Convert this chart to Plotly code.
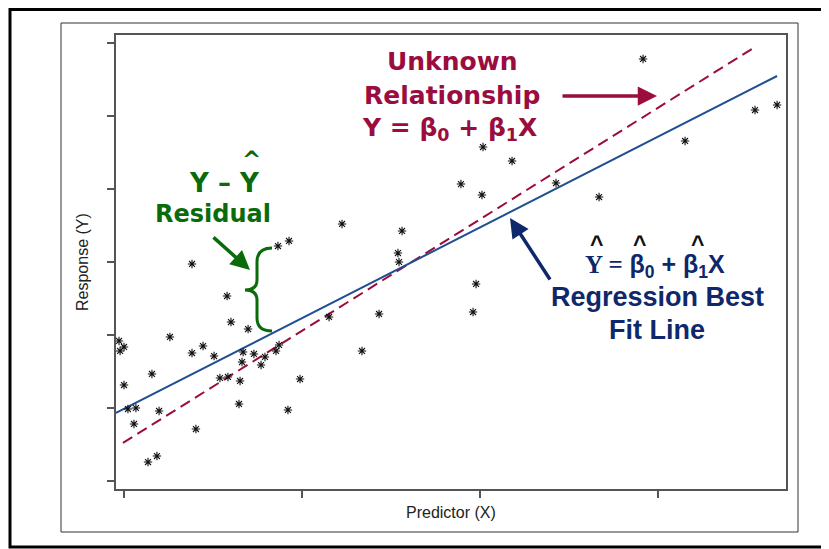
import plotly.graph_objects as go

# scatter data (predictor, response)
pred_x = [-0.028, 0.0, -0.022, 0.0, 0.022, 0.067, 0.056, 0.157, 0.197, 0.258,
          0.135, 0.185, 0.382, 0.382, 0.404, 0.444, 0.506, 0.539, 0.584, 0.579,
          0.601, 0.697, 0.669, 0.663, 0.652, 0.646, 0.730, 0.770, 0.792, 0.854,
          0.871, 0.865, 0.927, 0.921, 0.989, 1.152, 1.337, 1.433, 1.225, 1.562,
          1.539, 1.545, 1.978, 1.961, 1.893, 2.011, 2.017, 2.180, 2.427, 2.669,
          2.916, 3.152, 3.545, 3.669]
resp_y = [1.918, 1.836, 1.781, 1.315, 0.986, 1.000, 0.781, 1.466, 0.959, 1.973,
          0.260, 0.342, 2.973, 1.753, 0.712, 1.849, 1.712, 1.411, 1.425, 2.534,
          2.178, 2.082, 1.767, 1.630, 1.370, 1.055, 1.740, 1.589, 1.699, 1.781,
          1.863, 3.219, 3.288, 0.973, 1.397, 2.247, 1.781, 2.288, 3.521, 3.425,
          3.123, 3.000, 2.699, 2.315, 4.068, 3.918, 4.575, 4.384, 4.082, 3.890,
          5.781, 4.658, 5.082, 5.151]

# fitted regression line and the "true" relationship
fit_x = [-0.045, 3.669]
fit_y = [0.932, 5.548]
true_x = [-0.006, 3.545]
true_y = [0.521, 5.945]

x_ticks = [0, 1, 2, 3]
y_ticks = [0, 1, 2, 3, 4, 5, 6]

RED = '#9b0c3f'
BLUE = '#1f4e91'
GREEN = '#0b6b0b'
NAVY = '#0f286b'
TXT = "'DejaVu Sans', Verdana, sans-serif"
ARIAL = "'Liberation Sans', Arial, sans-serif"

# page body has an 8px margin, so the figure starts at (8, 8) in the window
OFF = 8


# pixel helpers (window pixels; plot area is 116..786 x 35..489)
def dx(px):
    return (px - 124) / 178


def dy(py):
    return (481 - py) / 73


def paper_x(px):
    return (px - 116) / 670


def paper_y(py):
    return (489 - py) / 454


fig = go.Figure()

fig.add_trace(go.Scatter(x=true_x, y=true_y, mode='lines',
                         line=dict(color=RED, width=2, dash='11px,6px')))
fig.add_trace(go.Scatter(x=fit_x, y=fit_y, mode='lines',
                         line=dict(color=BLUE, width=2)))
fig.add_trace(go.Scatter(x=pred_x, y=resp_y, mode='markers',
                         marker=dict(symbol='asterisk-open', size=7, color='#111',
                                     line=dict(color='#111', width=1.1))))


def label(x, y, text, color, size, family=TXT, bold=True):
    t = f'<b>{text}</b>' if bold else text
    fig.add_annotation(x=dx(x), y=dy(y), text=t, showarrow=False,
                       font=dict(family=family, size=size, color=color),
                       xanchor='center', yanchor='middle')


def arrow(x0, y0, x1, y1, color, width=3):
    fig.add_annotation(x=dx(x1), y=dy(y1), ax=dx(x0), ay=dy(y0),
                       xref='x', yref='y', axref='x', ayref='y', text='',
                       showarrow=True, arrowhead=2, arrowsize=1.1,
                       arrowwidth=width, arrowcolor=color)


# unknown relationship
label(452, 61, 'Unknown', RED, 25)
label(452, 95, 'Relationship', RED, 25)
label(449, 129, 'Y = β<sub>0</sub> + β<sub>1</sub>X', RED, 25)
arrow(561, 96, 657, 96, RED, 3.5)

# residual
label(224, 183, 'Y – Y', GREEN, 26)
label(251, 160, '^', GREEN, 23)
label(213, 214, 'Residual', GREEN, 24)
arrow(212, 236, 250, 270, GREEN, 3.5)

# regression line
fig.add_annotation(x=dx(655), y=dy(266), showarrow=False,
                   text="<span style=\"font-family:'Liberation Serif'\"><b>Y =</b></span>"
                        " <b>β<sub>0</sub> + β<sub>1</sub>X</b>",
                   font=dict(family=ARIAL, size=25, color=NAVY))
for hx in [596, 639, 697]:
    label(hx, 244, '^', '#111', 23, family=ARIAL)
label(657, 297, 'Regression Best', NAVY, 27, family=ARIAL)
label(657, 330, 'Fit Line', NAVY, 27, family=ARIAL)
arrow(551, 281, 510, 218, NAVY, 3.5)

# curly brace for the residual
pts = [(272, 248), (257, 248), (257, 262), (257, 280), (257, 290), (245, 290),
       (257, 290), (257, 300), (257, 318), (257, 331), (272, 331)]
p = [f'{dx(a):.4f},{dy(b):.4f}' for a, b in pts]
brace = (f'M {p[0]} Q {p[1]} {p[2]} L {p[3]} Q {p[4]} {p[5]} '
         f'Q {p[6]} {p[7]} L {p[8]} Q {p[9]} {p[10]}')
fig.add_shape(type='path', path=brace, xref='x', yref='y',
              line=dict(color=GREEN, width=3))

# frames round the panel
fig.add_shape(type='rect', xref='paper', yref='paper',
              x0=paper_x(61), x1=paper_x(798), y0=paper_y(532), y1=paper_y(23),
              line=dict(color='#333', width=1))
fig.add_shape(type='rect', xref='paper', yref='paper',
              x0=paper_x(10), x1=paper_x(850), y0=paper_y(547), y1=paper_y(9.5),
              line=dict(color='black', width=3))

# axis titles
fig.add_annotation(x=paper_x(451), y=paper_y(512), xref='paper', yref='paper',
                   text='Predictor (X)', showarrow=False,
                   xanchor='center', yanchor='middle',
                   font=dict(family=ARIAL, size=16, color='#222'))
fig.add_annotation(x=paper_x(82), y=paper_y(262), xref='paper', yref='paper',
                   text='Response (Y)', showarrow=False, textangle=-90,
                   xanchor='center', yanchor='middle',
                   font=dict(family=ARIAL, size=16, color='#222'))

axis = dict(showgrid=False, zeroline=False, showticklabels=False,
            showline=True, mirror=True, linecolor='#555', linewidth=1.5,
            ticks='outside', ticklen=7, tickcolor='#555', tickwidth=1.5)
fig.update_xaxes(range=[dx(116), dx(786)], tickvals=x_ticks, **axis)
fig.update_yaxes(range=[dy(489), dy(35)], tickvals=y_ticks, **axis)

fig.update_layout(width=829 - OFF, height=549 - OFF, showlegend=False,
                  margin=dict(l=116 - OFF, r=829 - 786, t=35 - OFF, b=549 - 489),
                  plot_bgcolor='white', paper_bgcolor='white')

fig.write_html('out.html')
